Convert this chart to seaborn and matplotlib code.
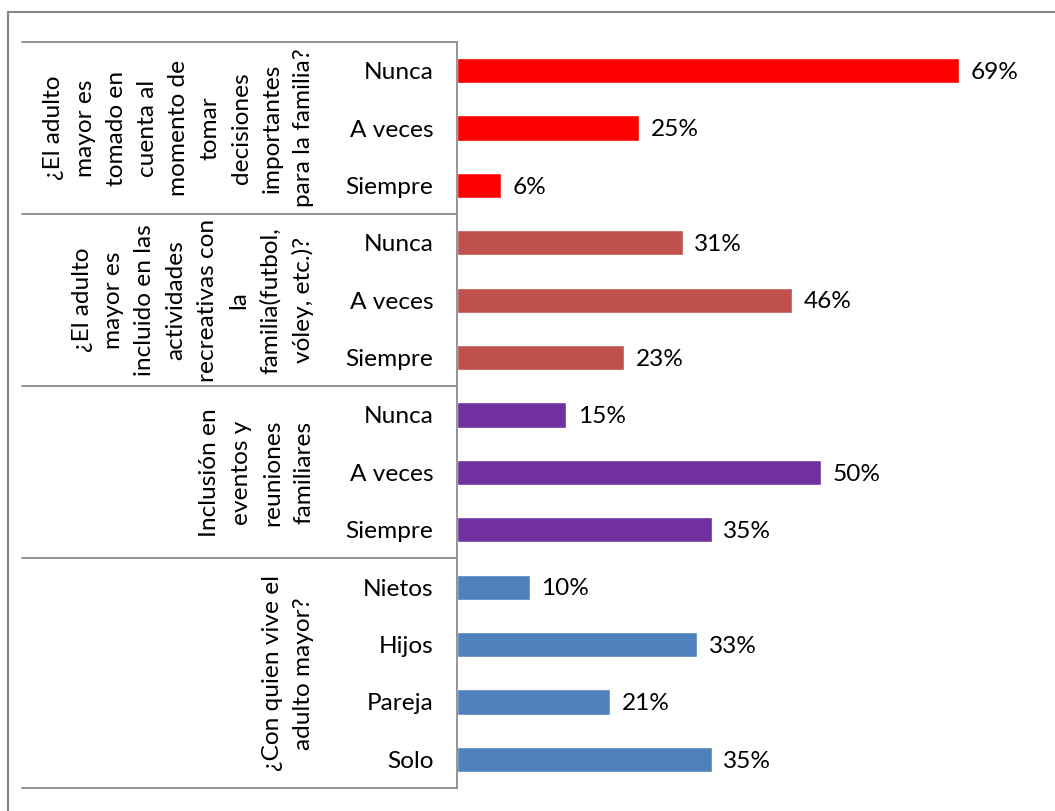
import matplotlib
matplotlib.use("Agg")
import matplotlib.pyplot as plt
import seaborn as sns
import pandas as pd
from matplotlib.lines import Line2D
from matplotlib.transforms import blended_transform_factory

# ---------------- data ----------------
preguntas = [
    "¿El adulto\nmayor es\ntomado en\ncuenta al\nmomento de\ntomar\ndecisiones\nimportantes\npara la familia?",
    "¿El adulto\nmayor es\nincluido en las\nactividades\nrecreativas con\nla\nfamilia(futbol,\nvóley, etc.)?",
    "Inclusión en\neventos y\nreuniones\nfamiliares",
    "¿Con quien vive el\nadulto mayor?",
]
cats_decisiones = ["Nunca", "A veces", "Siempre"]
vals_decisiones = [69, 25, 6]
cats_recreativas = ["Nunca", "A veces", "Siempre"]
vals_recreativas = [31, 46, 23]
cats_eventos = ["Nunca", "A veces", "Siempre"]
vals_eventos = [15, 50, 35]
cats_vive = ["Nietos", "Hijos", "Pareja", "Solo"]
vals_vive = [10, 33, 21, 35]

colores = ["#FF0000", "#C0504D", "#7030A0", "#4F81BD"]

grupos_cats = [cats_decisiones, cats_recreativas, cats_eventos, cats_vive]
grupos_vals = [vals_decisiones, vals_recreativas, vals_eventos, vals_vive]

rows = []
for g, (cats, vals) in enumerate(zip(grupos_cats, grupos_vals)):
    for c, v in zip(cats, vals):
        rows.append({"fila": f"{g}_{c}", "categoria": c, "valor": v, "grupo": f"g{g}"})
df = pd.DataFrame(rows)

# ---------------- figure ----------------
sns.set_theme(style="white")
plt.rcParams["font.family"] = ["Lato", "DejaVu Sans"]
FS = 17.6

W, H = 1055, 811
fig = plt.figure(figsize=(W / 100, H / 100), dpi=100)
fig.patch.set_facecolor("white")

ax_left, ax_right_px = 457, 1039
ax_top, ax_bot = 42, 788
ax = fig.add_axes([ax_left / W, 1 - ax_bot / H, (ax_right_px - ax_left) / W, (ax_bot - ax_top) / H])

sns.barplot(data=df, x="valor", y="fila", hue="grupo", palette=colores,
            dodge=False, width=0.44, saturation=1, legend=False, ax=ax)

XMAX = 80
ax.set_xlim(0, XMAX)
ax.set_ylim(len(df) - 0.5, -0.5)
ax.set_xticks([])
ax.set_yticks(range(len(df)))
ax.set_yticklabels(df["categoria"], fontsize=FS, color="black")
ax.tick_params(axis="y", length=0, pad=17)
ax.set_xlabel("")
ax.set_ylabel("")
for s in ["top", "right", "bottom"]:
    ax.spines[s].set_visible(False)
ax.spines["left"].set_color("#8c8c8c")
ax.spines["left"].set_linewidth(1.3)

# value labels
for i, v in enumerate(df["valor"]):
    ax.text(v + 1.6, i + 0.03, f"{v}%", va="center", ha="left", fontsize=FS, color="black")

# group separators and group labels
axw = ax_right_px - ax_left
trans = blended_transform_factory(ax.transAxes, ax.transData)
x_line0 = (22 - ax_left) / axw
x_lab = (314 - ax_left) / axw
start = -0.5
ax.plot([x_line0, 0], [start, start], transform=trans, color="#8c8c8c", lw=1.3, clip_on=False)
for q, cats in zip(preguntas, grupos_cats):
    end = start + len(cats)
    ax.plot([x_line0, 0], [end, end], transform=trans, color="#8c8c8c", lw=1.3, clip_on=False)
    ax.text(x_lab, (start + end) / 2, q, transform=trans, rotation=90, ha="right", va="center",
            multialignment="center", fontsize=FS, linespacing=1.6, color="black")
    start = end

# outer chart border (top & left visible)
fig.add_artist(Line2D([8 / W, 1.01], [1 - 12 / H, 1 - 12 / H], transform=fig.transFigure,
                      color="#868686", lw=1.5))
fig.add_artist(Line2D([8 / W, 8 / W], [1 - 12 / H, -0.01], transform=fig.transFigure,
                      color="#868686", lw=1.5))

fig.savefig("out.png", dpi=100, facecolor="white")
